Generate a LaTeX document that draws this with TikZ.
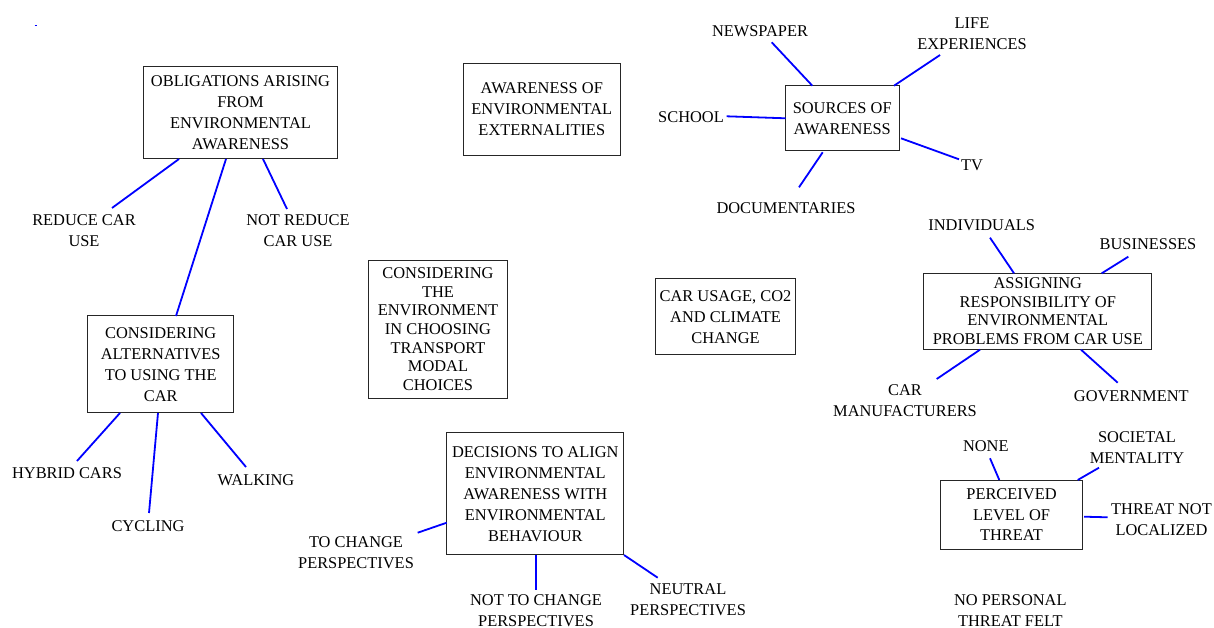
\documentclass[tikz,border=0pt]{standalone}
\usepackage{fontspec}
\setmainfont{Liberation Serif}
\begin{document}
\begin{tikzpicture}[x=1pt,y=-1pt,
  txt/.style={font=\fontsize{16.4}{21}\selectfont, align=center, inner sep=0pt},
  box/.style={txt, draw=black!85, line width=1pt},
  link/.style={draw=blue, line width=1.8pt}]
\useasboundingbox (0,0) rectangle (1214,628);

% ---- concept boxes ----
\node[box, minimum width=194.4, minimum height=91.6] (obl) at (240.5,112.5)
  {OBLIGATIONS ARISING\\FROM\\ENVIRONMENTAL\\AWARENESS};
\node[box, minimum width=146, minimum height=96.7] (alt) at (160.7,364.3)
  {CONSIDERING\\ALTERNATIVES\\TO USING THE\\CAR};
\node[box, minimum width=157, minimum height=91.7] (ext) at (541.8,109.2)
  {AWARENESS OF\\ENVIRONMENTAL\\EXTERNALITIES};
\node[box, minimum width=139.4, minimum height=138.3,
      font=\fontsize{16.4}{18.7}\selectfont] (env) at (438,329.2)
  {CONSIDERING\\THE\\ENVIRONMENT\\IN CHOOSING\\TRANSPORT\\MODAL\\CHOICES};
\node[box, minimum width=139.6, minimum height=76] (car) at (725.5,316.7)
  {CAR USAGE, CO2\\AND CLIMATE\\CHANGE};
\node[box, minimum width=114.3, minimum height=65] (src) at (842.2,118.2)
  {SOURCES OF\\AWARENESS};
\node[box, minimum width=227.7, minimum height=75.7,
      font=\fontsize{16.4}{18.4}\selectfont] (asg) at (1037.8,311.2)
  {ASSIGNING\\RESPONSIBILITY OF\\ENVIRONMENTAL\\PROBLEMS FROM CAR USE};
\node[box, minimum width=141.6, minimum height=69.3,
      font=\fontsize{16.4}{20.5}\selectfont] (thr) at (1011.5,514.7)
  {PERCEIVED\\LEVEL OF\\THREAT};
\node[box, minimum width=177.3, minimum height=122.3] (dec) at (535.3,493.8)
  {DECISIONS TO ALIGN\\ENVIRONMENTAL\\AWARENESS WITH\\ENVIRONMENTAL\\BEHAVIOUR};

% ---- labels ----
\node[txt] (reduce)   at (84,230.5)   {REDUCE CAR\\USE};
\node[txt] (notred)   at (298,231)    {NOT REDUCE\\CAR USE};
\node[txt] (hybrid)   at (67,473)     {HYBRID CARS};
\node[txt] (cycling)  at (148,526)    {CYCLING};
\node[txt] (walking)  at (256,480)    {WALKING};
\node[txt] (news)     at (760,30.7)   {NEWSPAPER};
\node[txt] (life)     at (972,34)     {LIFE\\EXPERIENCES};
\node[txt] (school)   at (691,116.7)  {SCHOOL};
\node[txt] (tv)       at (972,165)    {TV};
\node[txt] (docs)     at (786,208.3)  {DOCUMENTARIES};
\node[txt] (indiv)    at (981.7,225)  {INDIVIDUALS};
\node[txt] (busi)     at (1148,244.3) {BUSINESSES};
\node[txt] (manuf)    at (905,401)    {CAR\\MANUFACTURERS};
\node[txt] (gov)      at (1131.3,396) {GOVERNMENT};
\node[txt] (none)     at (985.8,445.7) {NONE};
\node[txt] (soc)      at (1137,447.3) {SOCIETAL\\MENTALITY};
\node[txt] (notloc)   at (1161.5,519.7) {THREAT NOT\\LOCALIZED};
\node[txt] (nopers)   at (1010.3,610.6) {NO PERSONAL\\THREAT FELT};
\node[txt] (tochg)    at (356,553)    {TO CHANGE\\PERSPECTIVES};
\node[txt] (nottochg) at (536,610.3)  {NOT TO CHANGE\\PERSPECTIVES};
\node[txt] (neutral)  at (688,600)    {NEUTRAL\\PERSPECTIVES};

% ---- connector end points ----
\coordinate (oblA) at (179,159);    \coordinate (redA) at (112,208);
\coordinate (oblB) at (226,159);    \coordinate (altA) at (176,316);
\coordinate (oblC) at (263,159);    \coordinate (notA) at (287,209);
\coordinate (altB) at (120,413);    \coordinate (hybA) at (77,461);
\coordinate (altC) at (158,413);    \coordinate (cycA) at (149,513);
\coordinate (altD) at (201,413);    \coordinate (walA) at (246,467);
\coordinate (srcA) at (812.3,85.7); \coordinate (newA) at (771.7,42.3);
\coordinate (srcB) at (894,85.7);   \coordinate (lifA) at (940,55);
\coordinate (srcC) at (785.7,118.3);\coordinate (schA) at (726.7,116.3);
\coordinate (srcD) at (901,138.3);  \coordinate (tvA)  at (959,159.3);
\coordinate (srcE) at (822.7,152.3);\coordinate (docA) at (799,187.3);
\coordinate (asgA) at (1014,273.3); \coordinate (indA) at (990,237.7);
\coordinate (asgB) at (1101.7,273.3);\coordinate (busA) at (1128.3,256.7);
\coordinate (asgC) at (980,349.7);  \coordinate (manA) at (936.7,379);
\coordinate (asgD) at (1081,349.7); \coordinate (govA) at (1117.7,382.7);
\coordinate (thrA) at (999.3,480);  \coordinate (nonA) at (990,458.3);
\coordinate (thrB) at (1077.7,480); \coordinate (socA) at (1099,467.7);
\coordinate (thrC) at (1084,516.7); \coordinate (locA) at (1107.7,517.3);
\coordinate (decA) at (446.7,522.7);\coordinate (tocA) at (417.7,532.7);
\coordinate (decB) at (536,555);    \coordinate (ntcA) at (536,590);
\coordinate (decC) at (624,555);    \coordinate (neuA) at (657.7,577.7);
\coordinate (dotA) at (34.5,25.5);  \coordinate (dotB) at (36.5,25.5);

% ---- connectors ----
\draw[link] (oblA) -- (redA);
\draw[link] (oblB) -- (altA);
\draw[link] (oblC) -- (notA);
\draw[link] (altB) -- (hybA);
\draw[link] (altC) -- (cycA);
\draw[link] (altD) -- (walA);
\draw[link] (srcA) -- (newA);
\draw[link] (srcB) -- (lifA);
\draw[link] (srcC) -- (schA);
\draw[link] (srcD) -- (tvA);
\draw[link] (srcE) -- (docA);
\draw[link] (asgA) -- (indA);
\draw[link] (asgB) -- (busA);
\draw[link] (asgC) -- (manA);
\draw[link] (asgD) -- (govA);
\draw[link] (thrA) -- (nonA);
\draw[link] (thrB) -- (socA);
\draw[link] (thrC) -- (locA);
\draw[link] (decA) -- (tocA);
\draw[link] (decB) -- (ntcA);
\draw[link] (decC) -- (neuA);
\draw[draw=blue, line width=1pt] (dotA) -- (dotB);
\end{tikzpicture}
\end{document}
